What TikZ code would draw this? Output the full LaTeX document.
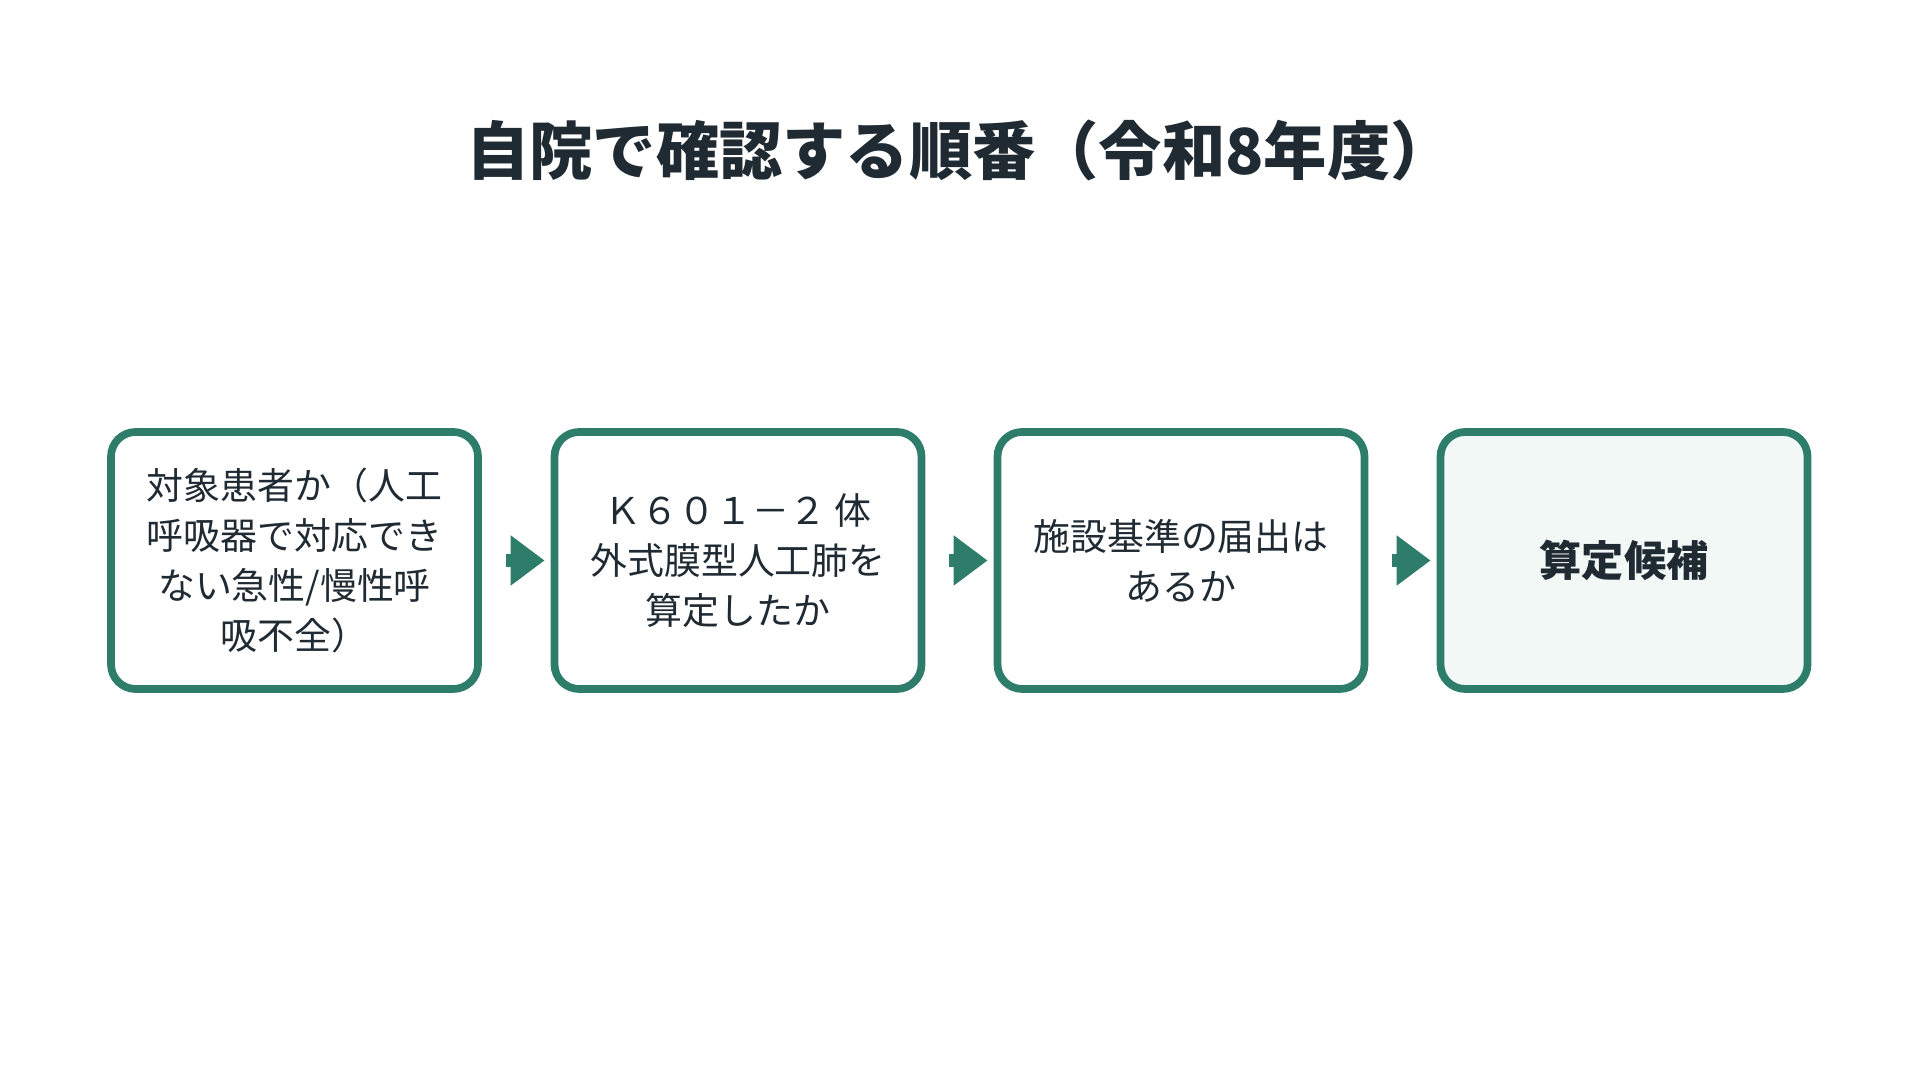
\documentclass[tikz,border=0pt]{standalone}
\usepackage{fontspec}
\setmainfont{Noto Sans CJK JP}
\usetikzlibrary{arrows.meta}
\definecolor{grn}{HTML}{2E7D6B}
\definecolor{lfill}{HTML}{F2F8F5}
\definecolor{ink}{HTML}{1F2A33}
\begin{document}
\begin{tikzpicture}[
  box/.style={draw=grn,line width=2.2pt,rounded corners=7pt,minimum width=3.67cm,minimum height=2.57cm,align=center,text=ink,font=\fontsize{10.5}{14.2}\selectfont,fill=white},
  arr/.style={grn,line width=3.5pt,-{Triangle[length=0.34cm,width=0.48cm]},shorten <=0.24cm,shorten >=0.06cm}]
\useasboundingbox (0,0) rectangle (19.2,10.8);
\node[text=ink,font=\fontsize{18}{20}\bfseries\selectfont] (title) at (9.6,9.3) {自院で確認する順番（令和8年度）};
\node[box] (b1) at (2.945,5.195) {対象患者か（人工\\呼吸器で対応でき\\ない急性/慢性呼\\吸不全）};
\node[box] (b2) at (7.38,5.195) {Ｋ６０１－２ 体\\外式膜型人工肺を\\算定したか};
\node[box] (b3) at (11.81,5.195) {施設基準の届出は\\あるか};
\node[box,fill=lfill,font=\fontsize{12}{14}\bfseries\selectfont] (b4) at (16.24,5.195) {算定候補};
\draw[arr] (b1.east) -- (b2.west);
\draw[arr] (b2.east) -- (b3.west);
\draw[arr] (b3.east) -- (b4.west);
\end{tikzpicture}
\end{document}
